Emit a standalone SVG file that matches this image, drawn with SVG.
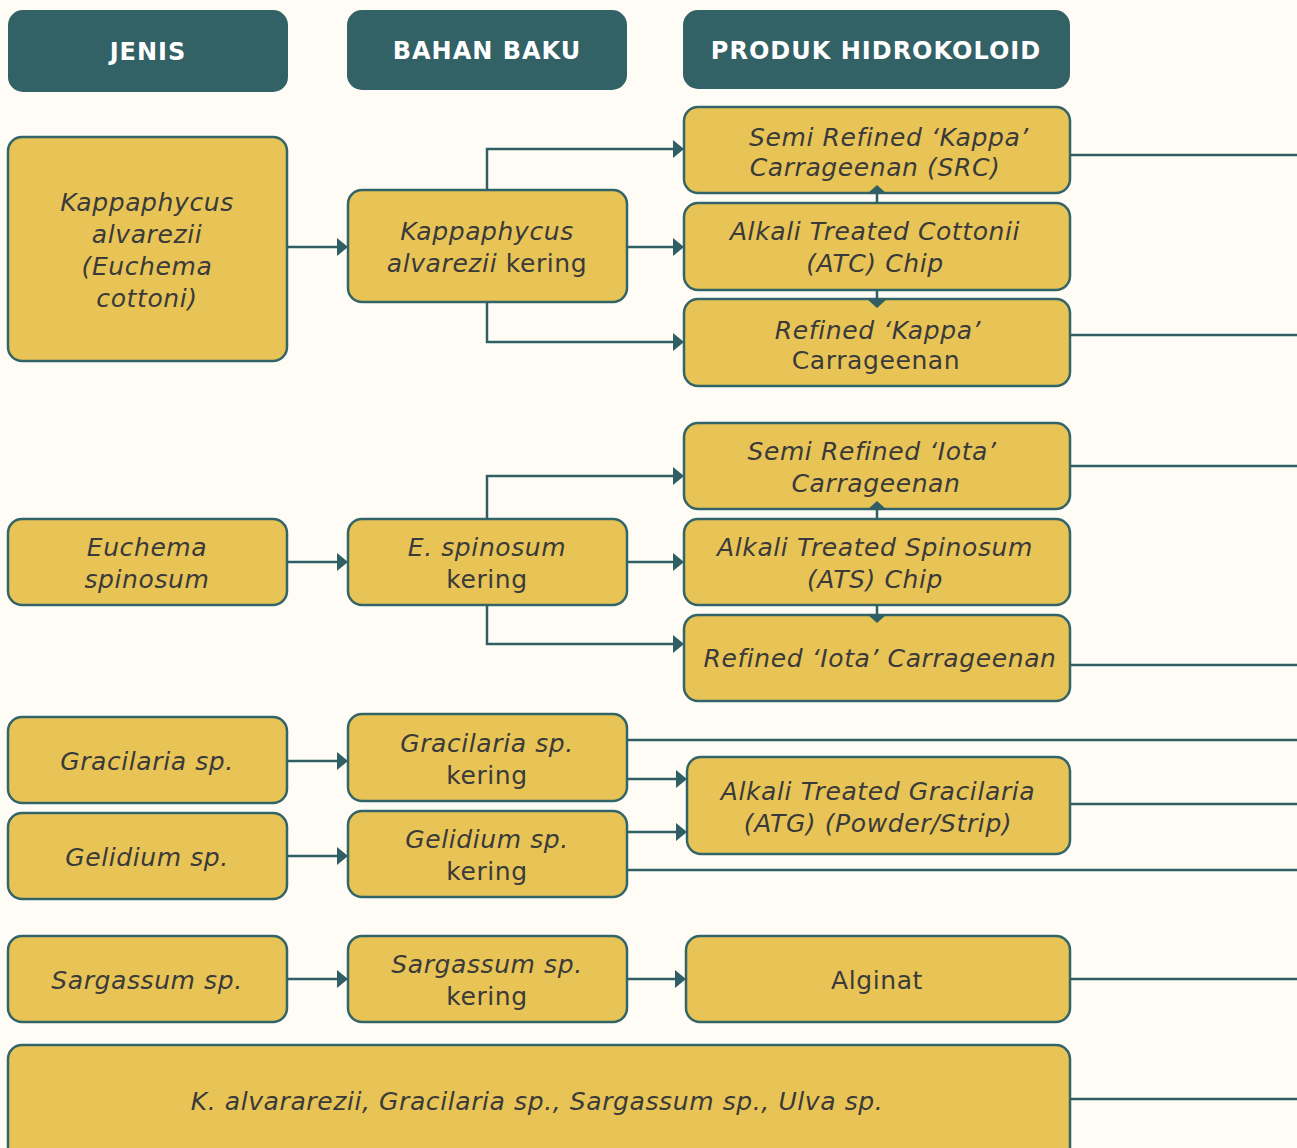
<svg xmlns="http://www.w3.org/2000/svg" width="1297" height="1148" viewBox="0 0 1297 1148">
<defs>
<marker id="ah" markerUnits="userSpaceOnUse" markerWidth="12" markerHeight="18" refX="0" refY="9" orient="auto" overflow="visible">
<path d="M0,0 L11,9 L0,18 z" fill="#2f5f64"/>
</marker>
<marker id="as" markerUnits="userSpaceOnUse" markerWidth="10" markerHeight="20" refX="0" refY="10" orient="auto" overflow="visible">
<path d="M0,0 L9,10 L0,20 z" fill="#2f5f64"/>
</marker>
</defs>
<style>
.bg{fill:#fefcf5}
.hd rect{fill:#326166}
.hd text{fill:#ffffff;font-family:"DejaVu Sans","Liberation Sans",sans-serif;font-weight:700;font-size:24px;text-anchor:middle;letter-spacing:1px}
.nd rect{fill:#e8c456;stroke:#336468;stroke-width:2.5}
.nd text{fill:#3a3a3a;font-family:"DejaVu Sans","Liberation Sans",sans-serif;font-size:25px;text-anchor:middle;font-style:italic;letter-spacing:0.6px}
.nd .r{font-style:normal}
.cn path{fill:none;stroke:#2f5f64;stroke-width:2.5}
.cn .a{marker-end:url(#ah)}
.cn .s{marker-end:url(#as)}
</style>
<rect class="bg" x="0" y="0" width="1297" height="1148"/>
<g id="headers" class="hd">
<g id="h-jenis"><rect x="8" y="10" width="280" height="82" rx="15"/><text x="148" y="60">JENIS</text></g>
<g id="h-bahan"><rect x="347" y="10" width="280" height="80" rx="15"/><text x="487" y="59">BAHAN BAKU</text></g>
<g id="h-produk"><rect x="683" y="10" width="387" height="79" rx="15"/><text x="876" y="59">PRODUK HIDROKOLOID</text></g>
</g>
<g id="nodes" class="nd">
<g id="n-kappa"><rect x="8" y="137" width="279" height="224" rx="14"/>
<text x="147" y="211">Kappaphycus</text><text x="147" y="243">alvarezii</text><text x="147" y="275">(Euchema</text><text x="147" y="307">cottoni)</text></g>
<g id="n-kappa-kering"><rect x="348" y="190" width="279" height="112" rx="14"/>
<text x="487" y="240">Kappaphycus</text><text x="487" y="272">alvarezii <tspan class="r">kering</tspan></text></g>
<g id="n-src"><rect x="684" y="107" width="386" height="86" rx="14"/>
<text x="889" y="146">Semi Refined ‘Kappa’</text><text x="875" y="176">Carrageenan (SRC)</text></g>
<g id="n-atc"><rect x="684" y="203" width="386" height="87" rx="14"/>
<text x="875" y="240">Alkali Treated Cottonii</text><text x="875" y="272">(ATC) Chip</text></g>
<g id="n-rkappa"><rect x="684" y="299" width="386" height="87" rx="14"/>
<text x="878" y="339">Refined ‘Kappa’</text><text x="876" y="369" class="r">Carrageenan</text></g>
<g id="n-euchema"><rect x="8" y="519" width="279" height="86" rx="14"/>
<text x="147" y="556">Euchema</text><text x="147" y="588">spinosum</text></g>
<g id="n-spin-kering"><rect x="348" y="519" width="279" height="86" rx="14"/>
<text x="487" y="556">E. spinosum</text><text x="487" y="588" class="r">kering</text></g>
<g id="n-sri"><rect x="684" y="423" width="386" height="86" rx="14"/>
<text x="872" y="460">Semi Refined ‘Iota’</text><text x="876" y="492">Carrageenan</text></g>
<g id="n-ats"><rect x="684" y="519" width="386" height="86" rx="14"/>
<text x="875" y="556">Alkali Treated Spinosum</text><text x="875" y="588">(ATS) Chip</text></g>
<g id="n-riota"><rect x="684" y="615" width="386" height="86" rx="14"/>
<text x="880" y="667">Refined ‘Iota’ Carrageenan</text></g>
<g id="n-gracilaria"><rect x="8" y="717" width="279" height="86" rx="14"/>
<text x="147" y="770">Gracilaria sp.</text></g>
<g id="n-gracilaria-kering"><rect x="348" y="714" width="279" height="87" rx="14"/>
<text x="487" y="752">Gracilaria sp.</text><text x="487" y="784" class="r">kering</text></g>
<g id="n-gelidium"><rect x="8" y="813" width="279" height="86" rx="14"/>
<text x="147" y="866">Gelidium sp.</text></g>
<g id="n-gelidium-kering"><rect x="348" y="811" width="279" height="86" rx="14"/>
<text x="487" y="848">Gelidium sp.</text><text x="487" y="880" class="r">kering</text></g>
<g id="n-atg"><rect x="687" y="757" width="383" height="97" rx="14"/>
<text x="878" y="800">Alkali Treated Gracilaria</text><text x="878" y="832">(ATG) (Powder/Strip)</text></g>
<g id="n-sargassum"><rect x="8" y="936" width="279" height="86" rx="14"/>
<text x="147" y="989">Sargassum sp.</text></g>
<g id="n-sargassum-kering"><rect x="348" y="936" width="279" height="86" rx="14"/>
<text x="487" y="973">Sargassum sp.</text><text x="487" y="1005" class="r">kering</text></g>
<g id="n-alginat"><rect x="686" y="936" width="384" height="86" rx="14"/>
<text x="877" y="989" class="r">Alginat</text></g>
<g id="n-mix"><rect x="8" y="1045" width="1062" height="130" rx="14"/>
<text x="537" y="1110">K. alvararezii, Gracilaria sp., Sargassum sp., Ulva sp.</text></g>
</g>
<g id="connectors" class="cn">
<path class="a" d="M287,247 H337"/>
<path class="a" d="M487,190 V149 H673"/>
<path class="a" d="M627,247 H673"/>
<path class="a" d="M487,302 V342 H673"/>
<path class="s" d="M877,203 V194"/>
<path class="s" d="M877,290 V299"/>
<path d="M1070,155 H1297"/>
<path d="M1070,335 H1297"/>
<path class="a" d="M287,562 H337"/>
<path class="a" d="M487,519 V476 H673"/>
<path class="a" d="M627,562 H673"/>
<path class="a" d="M487,605 V644 H673"/>
<path class="s" d="M877,519 V510"/>
<path class="s" d="M877,605 V614"/>
<path d="M1070,466 H1297"/>
<path d="M1070,665 H1297"/>
<path class="a" d="M287,761 H337"/>
<path class="a" d="M287,856 H337"/>
<path d="M627,740 H1297"/>
<path class="a" d="M627,779 H676"/>
<path class="a" d="M627,832 H676"/>
<path d="M627,870 H1297"/>
<path d="M1070,804 H1297"/>
<path class="a" d="M287,979 H337"/>
<path class="a" d="M627,979 H675"/>
<path d="M1070,979 H1297"/>
<path d="M1070,1099 H1297"/>
</g>
</svg>
